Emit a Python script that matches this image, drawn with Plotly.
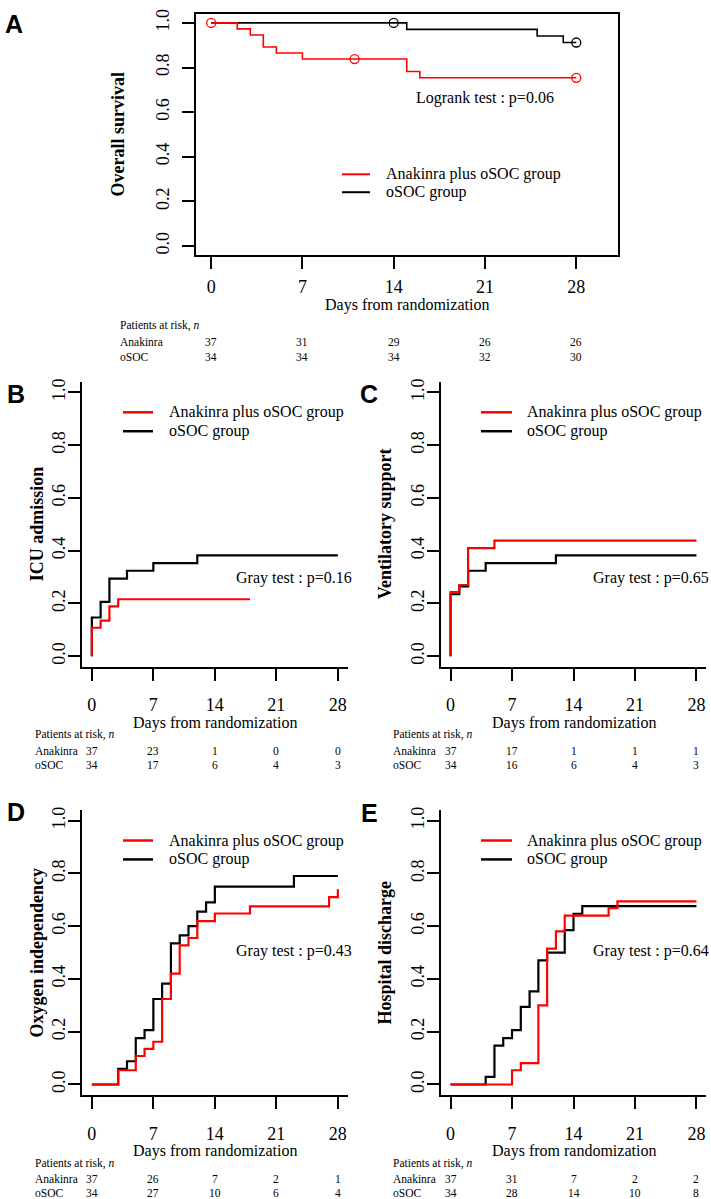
import plotly.graph_objects as go

W, H = 711, 1199
SERIF = "Liberation Serif, Times New Roman, serif"
SANS = "Liberation Sans, Arial, sans-serif"
RED = "#ff0000"
BLACK = "#000000"

DAY_TICKS = [0, 7, 14, 21, 28]
Y_TICKS = [0.0, 0.2, 0.4, 0.6, 0.8, 1.0]
GROUPS = ["Anakinra plus oSOC group", "oSOC group"]
RISK_LABELS = ["Anakinra", "oSOC"]

# A - overall survival (Kaplan-Meier)
A_ANA_DAYS = [0, 2, 3, 4, 5, 7, 15, 16, 28]
A_ANA_VALS = [1.0, 0.973, 0.946, 0.892, 0.865, 0.838, 0.782, 0.754, 0.754]
A_ANA_CENS_DAYS = [0, 11, 28]
A_ANA_CENS_VALS = [1.0, 0.838, 0.754]
A_SOC_DAYS = [0, 15, 25, 27, 28]
A_SOC_VALS = [1.0, 0.971, 0.941, 0.912, 0.912]
A_SOC_CENS_DAYS = [14, 28]
A_SOC_CENS_VALS = [1.0, 0.912]
A_RISK_ANA = [37, 31, 29, 26, 26]
A_RISK_SOC = [34, 34, 34, 32, 30]

# B - ICU admission (cumulative incidence)
B_ANA_DAYS = [0, 0, 1, 2, 3, 18]
B_ANA_VALS = [0, 0.108, 0.135, 0.189, 0.216, 0.216]
B_SOC_DAYS = [0, 0, 1, 2, 4, 7, 12, 28]
B_SOC_VALS = [0, 0.147, 0.206, 0.294, 0.324, 0.353, 0.382, 0.382]
B_RISK_ANA = [37, 23, 1, 0, 0]
B_RISK_SOC = [34, 17, 6, 4, 3]

# C - ventilatory support
C_ANA_DAYS = [0, 0, 1, 2, 5, 28]
C_ANA_VALS = [0, 0.243, 0.270, 0.410, 0.438, 0.438]
C_SOC_DAYS = [0, 0, 1, 2, 4, 12, 28]
C_SOC_VALS = [0, 0.235, 0.265, 0.324, 0.353, 0.382, 0.382]
C_RISK_ANA = [37, 17, 1, 1, 1]
C_RISK_SOC = [34, 16, 6, 4, 3]

# D - oxygen independency
D_ANA_DAYS = [0, 3, 5, 6, 7, 8, 9, 10, 11, 12, 14, 18, 27, 28]
D_ANA_VALS = [0, 0.054, 0.108, 0.135, 0.162, 0.324, 0.420, 0.527, 0.555, 0.619, 0.648, 0.675, 0.710, 0.740]
D_SOC_DAYS = [0, 3, 4, 5, 6, 7, 8, 9, 10, 11, 12, 13, 14, 23, 28]
D_SOC_VALS = [0, 0.059, 0.088, 0.176, 0.206, 0.324, 0.382, 0.535, 0.565, 0.600, 0.655, 0.690, 0.750, 0.790, 0.790]
D_RISK_ANA = [37, 26, 7, 2, 1]
D_RISK_SOC = [34, 27, 10, 6, 4]

# E - hospital discharge
E_ANA_DAYS = [0, 7, 8, 10, 11, 12, 13, 18, 19, 28]
E_ANA_VALS = [0, 0.054, 0.081, 0.300, 0.515, 0.580, 0.640, 0.668, 0.694, 0.694]
E_SOC_DAYS = [0, 4, 5, 6, 7, 8, 9, 10, 11, 13, 14, 15, 28]
E_SOC_VALS = [0, 0.029, 0.147, 0.176, 0.206, 0.294, 0.353, 0.470, 0.500, 0.585, 0.647, 0.676, 0.676]
E_RISK_ANA = [37, 31, 7, 2, 2]
E_RISK_SOC = [34, 28, 14, 10, 8]


def px(x):
    return x / W


def py(y):
    return 1 - y / H


# pixel boxes of the plot regions and text positions
PANELS = [
    dict(key="", letter="A", ytitle="Overall survival", test="Logrank test : p=0.06",
         test_xy=(21, 0.665), box=(195.5, 618, 9, 251), xr=[-1.2, 31.2], mirror=True,
         ana=(A_ANA_DAYS, A_ANA_VALS), soc=(A_SOC_DAYS, A_SOC_VALS),
         risk=(A_RISK_ANA, A_RISK_SOC), letter_xy=(14, 19), ytitle_x=118,
         xlab_off=2, ylab_off=5, xtitle_y=301, risk_x=118, risk_y=(322, 338, 353), risk_size=11.5,
         leg_line=(342, 370), leg_text=384, leg_y=(170, 188), lw=1.6, leg_lw=2),
    dict(key="2", letter="B", ytitle="ICU admission", test="Gray test : p=0.16",
         test_xy=(23, 0.298), box=(82, 347.7, 378.4, 664.6), xr=[-1.12, 29.12], mirror=False,
         ana=(B_ANA_DAYS, B_ANA_VALS), soc=(B_SOC_DAYS, B_SOC_VALS),
         risk=(B_RISK_ANA, B_RISK_SOC), letter_xy=(16, 391), ytitle_x=37,
         xlab_off=9, ylab_off=-4, xtitle_y=721, risk_x=33, risk_y=(733, 749, 763), risk_size=11.5,
         leg_line=(123, 153), leg_text=167, leg_y=(409, 428), lw=2.2, leg_lw=2.5),
    dict(key="3", letter="C", ytitle="Ventilatory support", test="Gray test : p=0.65",
         test_xy=(22.8, 0.298), box=(440.7, 706.3, 378.4, 664.6), xr=[-1.12, 29.12], mirror=False,
         ana=(C_ANA_DAYS, C_ANA_VALS), soc=(C_SOC_DAYS, C_SOC_VALS),
         risk=(C_RISK_ANA, C_RISK_SOC), letter_xy=(369, 391), ytitle_x=385,
         xlab_off=9, ylab_off=-4, xtitle_y=721, risk_x=391, risk_y=(733, 749, 763), risk_size=11.5,
         leg_line=(481, 512), leg_text=525, leg_y=(409, 428), lw=2.2, leg_lw=2.5),
    dict(key="4", letter="D", ytitle="Oxygen independency", test="Gray test : p=0.43",
         test_xy=(23, 0.506), box=(82, 347.7, 808.4, 1094.6), xr=[-1.12, 29.12], mirror=False,
         ana=(D_ANA_DAYS, D_ANA_VALS), soc=(D_SOC_DAYS, D_SOC_VALS),
         risk=(D_RISK_ANA, D_RISK_SOC), letter_xy=(16, 810), ytitle_x=37,
         xlab_off=9, ylab_off=-4, xtitle_y=1151, risk_x=33, risk_y=(1163, 1179, 1193), risk_size=11.5,
         leg_line=(123, 153), leg_text=167, leg_y=(839, 858), lw=2.2, leg_lw=2.5),
    dict(key="5", letter="E", ytitle="Hospital discharge", test="Gray test : p=0.64",
         test_xy=(22.8, 0.506), box=(440.7, 706.3, 808.4, 1094.6), xr=[-1.12, 29.12], mirror=False,
         ana=(E_ANA_DAYS, E_ANA_VALS), soc=(E_SOC_DAYS, E_SOC_VALS),
         risk=(E_RISK_ANA, E_RISK_SOC), letter_xy=(369, 811), ytitle_x=385,
         xlab_off=9, ylab_off=-4, xtitle_y=1151, risk_x=391, risk_y=(1163, 1179, 1193), risk_size=11.5,
         leg_line=(481, 512), leg_text=525, leg_y=(839, 858), lw=2.2, leg_lw=2.5),
]

fig = go.Figure()
layout = {}
annotations = []
shapes = []


def note(text, x, y, size, xref="paper", yref="paper", xanchor="center", **kw):
    annotations.append(dict(text=text, x=x, y=y, xref=xref, yref=yref, xanchor=xanchor,
                            yanchor="middle", showarrow=False,
                            font=dict(family=kw.pop("family", SERIF), size=size, color=BLACK), **kw))


for p in PANELS:
    k = p["key"]
    xref, yref = "x" + k, "y" + k
    x0, x1, y0, y1 = p["box"]

    # black first, red drawn on top
    fig.add_trace(go.Scatter(
        x=p["soc"][0], y=p["soc"][1], mode="lines", line=dict(color=BLACK, width=p["lw"], shape="hv"),
        name=GROUPS[1], xaxis=xref, yaxis=yref, showlegend=False, hoverinfo="skip"))
    fig.add_trace(go.Scatter(
        x=p["ana"][0], y=p["ana"][1], mode="lines", line=dict(color=RED, width=p["lw"], shape="hv"),
        name=GROUPS[0], xaxis=xref, yaxis=yref, showlegend=False, hoverinfo="skip"))

    layout["xaxis" + k] = dict(
        domain=[px(x0), px(x1)], range=p["xr"], anchor=yref, tickvals=DAY_TICKS,
        ticks="outside", ticklen=12, tickwidth=2, tickcolor=BLACK,
        showline=True, linewidth=2, linecolor=BLACK, mirror=p["mirror"],
        showgrid=False, zeroline=False, ticklabelstandoff=p["xlab_off"],
        tickfont=dict(family=SERIF, size=18, color=BLACK), fixedrange=True)
    layout["yaxis" + k] = dict(
        domain=[py(y1), py(y0)], range=[-0.04, 1.04], anchor=xref, tickvals=Y_TICKS,
        tickformat=".1f", tickangle=-90,
        ticks="outside", ticklen=12, tickwidth=2, tickcolor=BLACK,
        showline=True, linewidth=2, linecolor=BLACK, mirror=p["mirror"],
        showgrid=False, zeroline=False, ticklabelstandoff=p["ylab_off"],
        tickfont=dict(family=SERIF, size=18, color=BLACK), fixedrange=True)

    # legend (key lines + labels)
    for name, colour, ly in zip(GROUPS, [RED, BLACK], p["leg_y"]):
        shapes.append(dict(type="line", xref="paper", yref="paper",
                           x0=px(p["leg_line"][0]), x1=px(p["leg_line"][1]), y0=py(ly), y1=py(ly),
                           line=dict(color=colour, width=p["leg_lw"])))
        note(name, px(p["leg_text"]), py(ly), 16, xanchor="left")

    note("<b>%s</b>" % p["letter"], px(p["letter_xy"][0]), py(p["letter_xy"][1]), 25, family=SANS)
    note("<b>%s</b>" % p["ytitle"], px(p["ytitle_x"]), py((y0 + y1) / 2), 18, textangle=-90)
    note("Days from randomization", px((x0 + x1) / 2), py(p["xtitle_y"]), 16)
    note(p["test"], p["test_xy"][0], p["test_xy"][1], 16, xref=xref, yref=yref)

    # patients at risk table
    rs = p["risk_size"]
    ry = p["risk_y"]
    note("Patients at risk, <i>n</i>", px(p["risk_x"]), py(ry[0]), rs, xanchor="left")
    for row, (label, counts) in enumerate(zip(RISK_LABELS, p["risk"])):
        note(label, px(p["risk_x"]), py(ry[row + 1]), rs, xanchor="left")
        for day, n in zip(DAY_TICKS, counts):
            note(str(n), day, py(ry[row + 1]), rs, xref=xref)

# censoring marks for panel A
fig.add_trace(go.Scatter(x=A_SOC_CENS_DAYS, y=A_SOC_CENS_VALS, mode="markers", showlegend=False,
                         marker=dict(symbol="circle-open", size=9, color=BLACK, line=dict(width=1.3)),
                         xaxis="x", yaxis="y", hoverinfo="skip"))
fig.add_trace(go.Scatter(x=A_ANA_CENS_DAYS, y=A_ANA_CENS_VALS, mode="markers", showlegend=False,
                         marker=dict(symbol="circle-open", size=9, color=RED, line=dict(width=1.3)),
                         xaxis="x", yaxis="y", hoverinfo="skip"))

fig.update_layout(
    width=W, height=H, margin=dict(l=0, r=0, t=0, b=0),
    paper_bgcolor="white", plot_bgcolor="white", showlegend=False,
    annotations=annotations, shapes=shapes, **layout)

fig.write_html("out.html", config={"displayModeBar": False},
               post_script="document.body.style.margin='0';document.body.style.overflow='hidden';")
